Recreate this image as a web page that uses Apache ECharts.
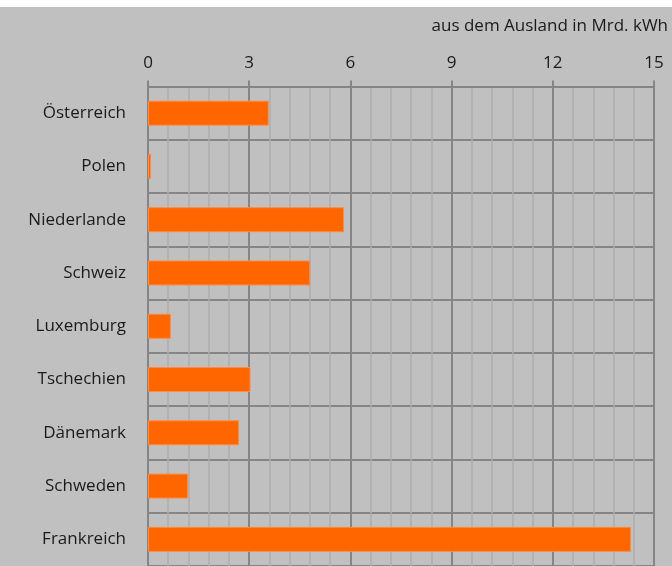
<!DOCTYPE html>
<html>
<head>
<meta charset="utf-8">
<script src="https://cdn.jsdelivr.net/npm/echarts@6/dist/echarts.min.js"></script>
<style>
html,body{margin:0;padding:0;background:#ffffff;}
#chart{width:672px;height:566px;}
</style>
</head>
<body>
<div id="chart"></div>
<script>
const categories = ['Österreich','Polen','Niederlande','Schweiz','Luxemburg','Tschechien','Dänemark','Schweden','Frankreich'];
const values = [3.58, 0.09, 5.81, 4.81, 0.68, 3.04, 2.70, 1.19, 14.32];
const axisTitle = 'aus dem Ausland in Mrd. kWh';
const xMin = 0, xMax = 15, xStep = 3;

const FONT = 'Open Sans';
const chart = echarts.init(document.getElementById('chart'), null, {renderer: 'canvas'});
chart.setOption({
  backgroundColor: '#ffffff',
  animation: false,
  graphic: [{
    type: 'rect', left: 0, top: 7, z: -10,
    shape: {width: 672, height: 559},
    style: {fill: '#c0c0c0'}
  }],
  title: {
    text: axisTitle,
    right: 4, top: 18, padding: 0,
    textStyle: {fontFamily: FONT, fontSize: 17, fontWeight: 'normal', color: '#1a1a1a'}
  },
  grid: {left: 148, width: 506, top: 86.5, height: 480, containLabel: false},
  xAxis: {
    type: 'value', position: 'top', min: xMin, max: xMax, interval: xStep,
    axisLine: {show: true, lineStyle: {color: '#858585', width: 2}},
    axisTick: {show: true, length: 6, lineStyle: {color: '#858585', width: 2}},
    axisLabel: {fontFamily: FONT, fontSize: 17, color: '#1a1a1a', margin: 15},
    splitLine: {show: true, lineStyle: {color: '#858585', width: 2}},
    minorTick: {show: false, splitNumber: 5},
    minorSplitLine: {show: true, lineStyle: {color: '#adadad', width: 1.5}}
  },
  yAxis: {
    type: 'category', data: categories, inverse: true,
    axisLine: {show: true, lineStyle: {color: '#858585', width: 2}},
    axisTick: {show: false},
    axisLabel: {fontFamily: FONT, fontSize: 17, color: '#1a1a1a', margin: 22},
    splitLine: {show: true, lineStyle: {color: '#858585', width: 2}}
  },
  series: [{
    type: 'bar', data: values, barWidth: 25,
    itemStyle: {color: '#ff6600', borderColor: '#ff8c45', borderWidth: 1}
  }]
});
</script>
</body>
</html>
